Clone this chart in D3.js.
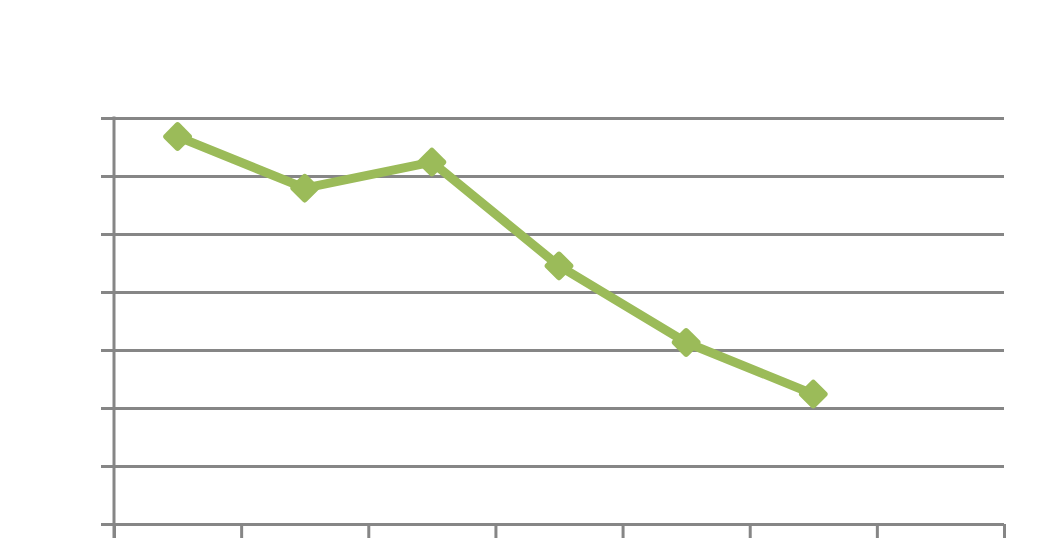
<!DOCTYPE html>
<html>
<head>
<meta charset="utf-8">
<script src="https://cdn.jsdelivr.net/npm/d3@7"></script>
<style>
html,body{margin:0;padding:0;background:#fff;}
svg{display:block;}
</style>
</head>
<body>
<div id="chart"></div>
<script>
// Data (the chart shows no labels)
const categories = ["1", "2", "3", "4", "5", "6", "7"];
const values = [6.68, 5.79, 6.24, 4.45, 3.13, 2.24];
const yTicks = [0, 1, 2, 3, 4, 5, 6, 7];

const W = 1060, H = 547;
const mLeft = 114, mRight = 1004, mTop = 118, mBottom = 524;
const gridColor = "#868686";
const seriesColor = "#9BBB59";

const svg = d3.select("#chart").append("svg").attr("width", W).attr("height", H);

const x = d3.scaleBand().domain(categories).range([mLeft, mRight]).paddingInner(0).paddingOuter(0);
const xEdges = d3.scaleLinear().domain([0, categories.length]).range([mLeft, mRight]);
const y = d3.scaleLinear().domain([0, 7]).range([mBottom, mTop]);

// Horizontal gridlines + left tick stubs
const gy = svg.append("g").attr("transform", `translate(${mLeft - 13},0)`)
  .call(d3.axisRight(y).tickValues(yTicks).tickSize(mRight - mLeft + 13).tickFormat(""));
gy.select(".domain").remove();
gy.selectAll(".tick line").attr("stroke", gridColor).attr("stroke-width", 3);

// Bottom axis with ticks at category boundaries
const gx = svg.append("g").attr("transform", `translate(0,${mBottom})`)
  .call(d3.axisBottom(xEdges).tickValues(d3.range(categories.length + 1)).tickSize(14).tickSizeOuter(0).tickFormat(""));
gx.select(".domain").remove();
gx.selectAll(".tick line").attr("stroke", gridColor).attr("stroke-width", 3);

// Left axis line
svg.append("line").attr("x1", mLeft).attr("x2", mLeft).attr("y1", mTop - 1.5).attr("y2", mBottom + 14)
  .attr("stroke", gridColor).attr("stroke-width", 3);

const pts = values.map((v, i) => [x(categories[i]) + x.bandwidth() / 2, y(v)]);

svg.append("path").datum(pts)
  .attr("d", d3.line())
  .attr("fill", "none").attr("stroke", seriesColor).attr("stroke-width", 9)
  .attr("stroke-linejoin", "round");

svg.selectAll("rect.mk").data(pts).enter().append("rect").attr("class", "mk")
  .attr("x", -11).attr("y", -11).attr("width", 22).attr("height", 22).attr("rx", 3)
  .attr("fill", seriesColor)
  .attr("transform", d => `translate(${d[0]},${d[1]}) rotate(45)`);
</script>
</body>
</html>
